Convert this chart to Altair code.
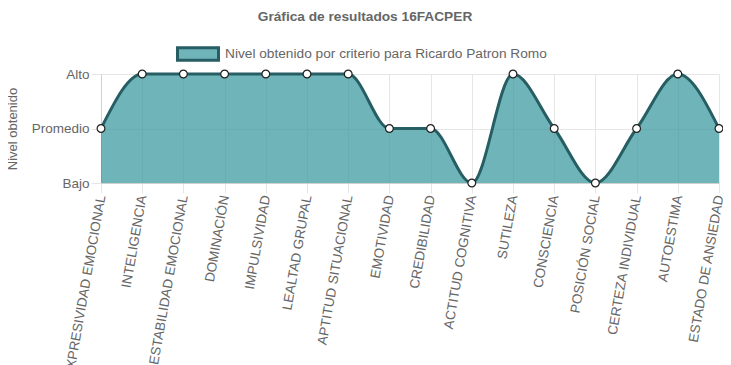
import altair as alt
import pandas as pd

categorias = [
    "EXPRESIVIDAD EMOCIONAL", "INTELIGENCIA", "ESTABILIDAD EMOCIONAL", "DOMINACIÓN",
    "IMPULSIVIDAD", "LEALTAD GRUPAL", "APTITUD SITUACIONAL", "EMOTIVIDAD",
    "CREDIBILIDAD", "ACTITUD COGNITIVA", "SUTILEZA", "CONSCIENCIA",
    "POSICIÓN SOCIAL", "CERTEZA INDIVIDUAL", "AUTOESTIMA", "ESTADO DE ANSIEDAD",
]
niveles = [1, 2, 2, 2, 2, 2, 2, 1, 1, 0, 2, 1, 0, 1, 2, 1]
etiquetas_nivel = ["Bajo", "Promedio", "Alto"]
serie = "Nivel obtenido por criterio para Ricardo Patron Romo"
titulo = "Gráfica de resultados 16FACPER"

df = pd.DataFrame({"criterio": categorias, "nivel": niveles, "serie": serie})

FONT = "Liberation Sans"
GRID = "#e6e6e6"
TXT = "#666666"

label_expr = "[" + ",".join("'%s'" % e for e in etiquetas_nivel) + "][datum.value]"

x_enc = alt.X(
    "criterio:N",
    sort=categorias,
    scale=alt.Scale(padding=0),
    axis=alt.Axis(
        title=None, labelAngle=-80, labelAlign="right", labelBaseline="middle",
        labelFontSize=13.5, labelColor=TXT, labelFont=FONT, labelOverlap=False,
        labelLimit=400, labelPadding=2, tickSize=10, tickColor=GRID,
        grid=True, gridColor=GRID, domainColor="#d0d0d0",
    ),
)
y_enc = alt.Y(
    "nivel:Q",
    scale=alt.Scale(domain=[0, 2], nice=False, zero=False),
    axis=alt.Axis(
        values=[0, 1, 2], labelExpr=label_expr, title="Nivel obtenido",
        titleFontSize=13, titleFontWeight="normal", titleColor=TXT, titleFont=FONT,
        titleAngle=-90, titleAlign="center", titleBaseline="middle",
        titleX=-89, titleY=54.5,
        labelFontSize=13.5, labelColor=TXT, labelFont=FONT, labelPadding=2,
        tickSize=10, tickColor=GRID, grid=True, gridColor=GRID, domainColor="#d0d0d0",
    ),
)

area = alt.Chart(df).mark_area(
    interpolate="monotone", color="#31949a", fillOpacity=0.7
).encode(x=x_enc, y=y_enc)

line = alt.Chart(df).mark_line(interpolate="monotone", strokeWidth=3).encode(
    x=x_enc, y=y_enc,
    color=alt.Color(
        "serie:N",
        scale=alt.Scale(range=["#265e63"]),
        legend=alt.Legend(
            title=None, orient="none", legendX=75, legendY=-42, direction="horizontal",
            labelFontSize=13.7, labelColor=TXT, labelFont=FONT, labelLimit=600,
            symbolType="M-1,-0.3H1V0.3H-1Z", symbolSize=1681,
            symbolStrokeWidth=3, symbolFillColor="#6fb4b8", labelOffset=5,
        ),
    ),
)
points = alt.Chart(df).mark_point(
    shape="circle", filled=True, color="white", stroke="#1f1f1f", strokeWidth=1.2,
    size=60, opacity=1
).encode(x=x_enc, y=y_enc)

chart = alt.layer(area, line, points).properties(
    width=618, height=109,
    title=alt.TitleParams(
        titulo, fontSize=13.7, fontWeight="bold", color=TXT, font=FONT,
        anchor="middle", frame="group", dx=-45, offset=8,
    ),
    autosize=alt.AutoSizeParams(type="none"),
    padding={"left": 93, "top": 66, "right": 4, "bottom": 182},
).configure_view(stroke=None)

chart.save("out.html", embed_options={"renderer": "svg", "actions": False})
